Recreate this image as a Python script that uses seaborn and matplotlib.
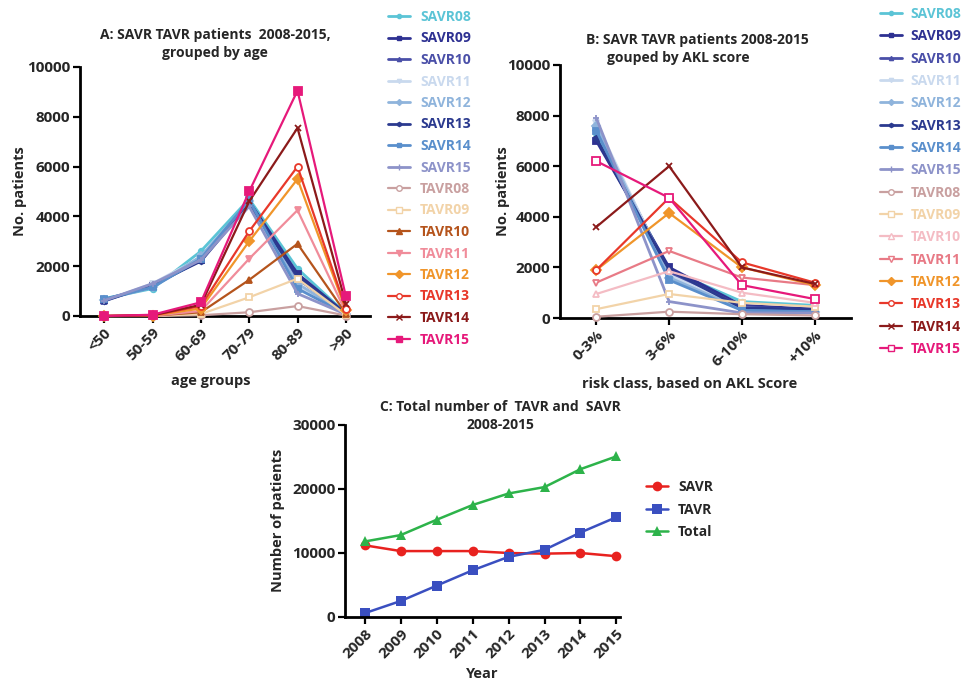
import numpy as np
import pandas as pd
import seaborn as sb
import matplotlib.pyplot as plt
from matplotlib.lines import Line2D

sb.set_style("white")
plt.rcParams['font.family'] = ['Open Sans', 'DejaVu Sans']
plt.rcParams['font.weight'] = 'bold'

# ---- data ----
AGE_GROUPS = ['<50', '50-59', '60-69', '70-79', '80-89', '>90']
RISK_CLASS = ['0-3%', '3-6%', '6-10%', '+10%']
YEARS = [2008, 2009, 2010, 2011, 2012, 2013, 2014, 2015]
SERIES = ['SAVR08', 'SAVR09', 'SAVR10', 'SAVR11', 'SAVR12', 'SAVR13', 'SAVR14', 'SAVR15',
          'TAVR08', 'TAVR09', 'TAVR10', 'TAVR11', 'TAVR12', 'TAVR13', 'TAVR14', 'TAVR15']

age_savr08 = [700, 1100, 2600, 4700, 1900, 100]
age_savr09 = [650, 1200, 2250, 4600, 1700, 100]
age_savr10 = [620, 1250, 2300, 4550, 1500, 90]
age_savr11 = [600, 1300, 2350, 4500, 1200, 80]
age_savr12 = [650, 1150, 2400, 4600, 1300, 90]
age_savr13 = [600, 1250, 2200, 4500, 1600, 100]
age_savr14 = [680, 1150, 2300, 4650, 1100, 80]
age_savr15 = [620, 1300, 2250, 4400, 900, 70]
age_tavr08 = [0, 0, 30, 150, 400, 20]
age_tavr09 = [0, 5, 80, 750, 1500, 50]
age_tavr10 = [0, 10, 150, 1450, 2900, 100]
age_tavr11 = [0, 10, 200, 2300, 4250, 150]
age_tavr12 = [0, 20, 300, 3000, 5500, 250]
age_tavr13 = [0, 30, 400, 3400, 6000, 300]
age_tavr14 = [0, 30, 450, 4600, 7550, 500]
age_tavr15 = [0, 50, 550, 5000, 9050, 800]

akl_savr08 = [7300, 1900, 650, 500]
akl_savr09 = [7000, 2000, 500, 350]
akl_savr10 = [7500, 1800, 450, 300]
akl_savr11 = [7700, 1700, 400, 300]
akl_savr12 = [7600, 1600, 350, 250]
akl_savr13 = [7100, 1900, 400, 350]
akl_savr14 = [7400, 1500, 300, 250]
akl_savr15 = [7900, 650, 200, 200]
akl_tavr08 = [50, 250, 150, 100]
akl_tavr09 = [350, 950, 600, 450]
akl_tavr10 = [950, 1850, 1000, 600]
akl_tavr11 = [1400, 2650, 1600, 1300]
akl_tavr12 = [1900, 4150, 2000, 1300]
akl_tavr13 = [1900, 4750, 2200, 1400]
akl_tavr14 = [3600, 6000, 2000, 1350]
akl_tavr15 = [6200, 4750, 1300, 750]

total_savr = [11200, 10300, 10300, 10300, 10000, 9900, 10000, 9500]
total_tavr = [600, 2500, 4900, 7300, 9400, 10500, 13200, 15600]
total_all = [11800, 12800, 15200, 17500, 19300, 20300, 23100, 25100]

age_data = [age_savr08, age_savr09, age_savr10, age_savr11, age_savr12, age_savr13, age_savr14, age_savr15,
            age_tavr08, age_tavr09, age_tavr10, age_tavr11, age_tavr12, age_tavr13, age_tavr14, age_tavr15]
akl_data = [akl_savr08, akl_savr09, akl_savr10, akl_savr11, akl_savr12, akl_savr13, akl_savr14, akl_savr15,
            akl_tavr08, akl_tavr09, akl_tavr10, akl_tavr11, akl_tavr12, akl_tavr13, akl_tavr14, akl_tavr15]

# ---- styles ----
COL_A = ['#5bc4d6', '#2e3192', '#4a4fa8', '#c9d9ee', '#8fb4dc', '#2b3a8f', '#5a8fcc', '#8d93c9',
         '#c9a0a0', '#f2d3a8', '#b5541c', '#f08c9a', '#f0952a', '#e8382a', '#8b1a1a', '#e6197a']
COL_B = ['#5bc4d6', '#2e3192', '#4a4fa8', '#c9d9ee', '#8fb4dc', '#2b3a8f', '#5a8fcc', '#8d93c9',
         '#c9a0a0', '#f2d3a8', '#f4bcc4', '#e87a86', '#f0952a', '#e8382a', '#8b1a1a', '#e6197a']
MARK = ['o', 's', '^', 'v', 'D', 'h', 's', '+', 'o', 's', '^', 'v', 'D', 'o', 'x', 's']
OPEN_A = {'TAVR08', 'TAVR09', 'TAVR13'}
OPEN_B = {'TAVR08', 'TAVR09', 'TAVR10', 'TAVR11', 'TAVR13', 'TAVR15'}
MS = [4, 4, 4, 4, 4, 4, 4, 5, 5, 5, 5, 5, 5, 5, 5, 6]

W, H = 973, 685
fig = plt.figure(figsize=(W / 100, H / 100), dpi=100)


def ax_at(x0, y0, x1, y1):
    return fig.add_axes([x0 / W, 1 - y1 / H, (x1 - x0) / W, (y1 - y0) / H])


def style_axis(ax):
    sb.despine(ax=ax)
    for s in ['left', 'bottom']:
        ax.spines[s].set_linewidth(2)
        ax.spines[s].set_color('black')
    ax.tick_params(axis='both', direction='out', length=5, width=1.6, color='black',
                   labelsize=11, pad=2, bottom=True, left=True)
    for lab in ax.get_xticklabels() + ax.get_yticklabels():
        lab.set_fontweight('bold')
    plt.setp(ax.get_xticklabels(), rotation=45, ha='right', rotation_mode='anchor')


def multi_panel(ax, cats, data, colors, open_set):
    xs = np.arange(len(cats))
    handles = []
    for i, name in enumerate(SERIES):
        df = pd.DataFrame({'x': xs, 'y': data[i]})
        mfc = 'white' if name in open_set else colors[i]
        lw = 2.0 if name.startswith('SAVR') else 1.6
        sb.lineplot(data=df, x='x', y='y', ax=ax, color=colors[i], marker=MARK[i],
                    markersize=MS[i], markerfacecolor=mfc, markeredgecolor=colors[i],
                    markeredgewidth=1.3, linewidth=lw, clip_on=False, zorder=3 + i * 0.1)
        handles.append(Line2D([], [], color=colors[i], marker=MARK[i], markersize=MS[i] - 1,
                              markerfacecolor=mfc, markeredgecolor=colors[i], lw=lw))
    ax.set_xlim(-0.5, len(cats) - 0.5)
    ax.set_ylim(0, 10000)
    ax.set_xticks(xs)
    ax.set_xticklabels(cats)
    ax.set_yticks(range(0, 10001, 2000))
    style_axis(ax)
    return handles


# ---- panel A ----
axA = ax_at(80, 67, 370, 316)
hA = multi_panel(axA, AGE_GROUPS, age_data, COL_A, OPEN_A)
axA.set_xlabel('age groups', fontsize=10.5, fontweight='bold')
axA.set_ylabel('No. patients', fontsize=10.5, fontweight='bold')
axA.xaxis.set_label_coords(0.45, -0.232)
axA.yaxis.set_label_coords(-0.183, 0.5)
fig.text(215 / W, 1 - 44 / H, 'A: SAVR TAVR patients  2008-2015,\ngrouped by age',
         ha='center', va='center', fontsize=10, fontweight='bold', linespacing=1.3)
fig.legend(hA, SERIES, loc='upper left', bbox_to_anchor=(388 / W, 1 - 10 / H), frameon=False,
           labelcolor=COL_A, prop={'size': 10, 'weight': 'bold'}, handlelength=1.6,
           handletextpad=0.7, labelspacing=0.54, borderpad=0, borderaxespad=0)

# ---- panel B ----
axB = ax_at(560, 65, 851, 318)
hB = multi_panel(axB, RISK_CLASS, akl_data, COL_B, OPEN_B)
axB.set_xlabel('risk class, based on AKL Score', fontsize=10.5, fontweight='bold')
axB.set_ylabel('No. patients', fontsize=10.5, fontweight='bold')
axB.xaxis.set_label_coords(0.447, -0.233)
axB.yaxis.set_label_coords(-0.172, 0.5)
fig.text(697 / W, 1 - 40 / H, 'B: SAVR TAVR patients 2008-2015', ha='center', va='center',
         fontsize=10, fontweight='bold')
fig.text(678 / W, 1 - 58 / H, 'gouped by AKL score', ha='center', va='center',
         fontsize=10, fontweight='bold')
fig.legend(hB, SERIES, loc='upper left', bbox_to_anchor=(880 / W, 1 - 7 / H), frameon=False,
           labelcolor=COL_B, prop={'size': 10, 'weight': 'bold'}, handlelength=1.6,
           handletextpad=0.6, labelspacing=0.6, borderpad=0, borderaxespad=0)

# ---- panel C ----
axC = ax_at(345, 425, 620, 617)
tot = pd.DataFrame({
    'Year': YEARS * 3,
    'n': total_savr + total_tavr + total_all,
    'grp': ['SAVR'] * 8 + ['TAVR'] * 8 + ['Total'] * 8,
})
pal = {'SAVR': '#e8221f', 'TAVR': '#3a4fc0', 'Total': '#2db34a'}
sb.lineplot(data=tot, x='Year', y='n', hue='grp', style='grp', palette=pal,
            markers={'SAVR': 'o', 'TAVR': 's', 'Total': '^'}, dashes=False,
            markersize=7, markeredgewidth=0, linewidth=1.8, ax=axC, clip_on=False)
axC.set_xlim(2007.45, 2015.1)
axC.set_ylim(0, 30000)
axC.set_xticks(YEARS)
axC.set_xticklabels([str(y) for y in YEARS])
axC.set_yticks([0, 10000, 20000, 30000])
style_axis(axC)
axC.set_xlabel('Year', fontsize=10.5, fontweight='bold')
axC.set_ylabel('Number of patients', fontsize=10.5, fontweight='bold')
axC.xaxis.set_label_coords(0.498, -0.26)
axC.yaxis.set_label_coords(-0.218, 0.505)
fig.text(500 / W, 1 - 416 / H, 'C: Total number of  TAVR and  SAVR\n2008-2015', ha='center',
         va='center', fontsize=10, fontweight='bold', linespacing=1.3)
hC, lC = axC.get_legend_handles_labels()
axC.get_legend().remove()
fig.legend(hC, lC, loc='upper left', bbox_to_anchor=(646 / W, 1 - 480 / H), frameon=False,
           prop={'size': 10, 'weight': 'bold'}, handlelength=1.6, handletextpad=0.7,
           labelspacing=0.62, borderpad=0, borderaxespad=0)

fig.savefig('out.png', dpi=100)
